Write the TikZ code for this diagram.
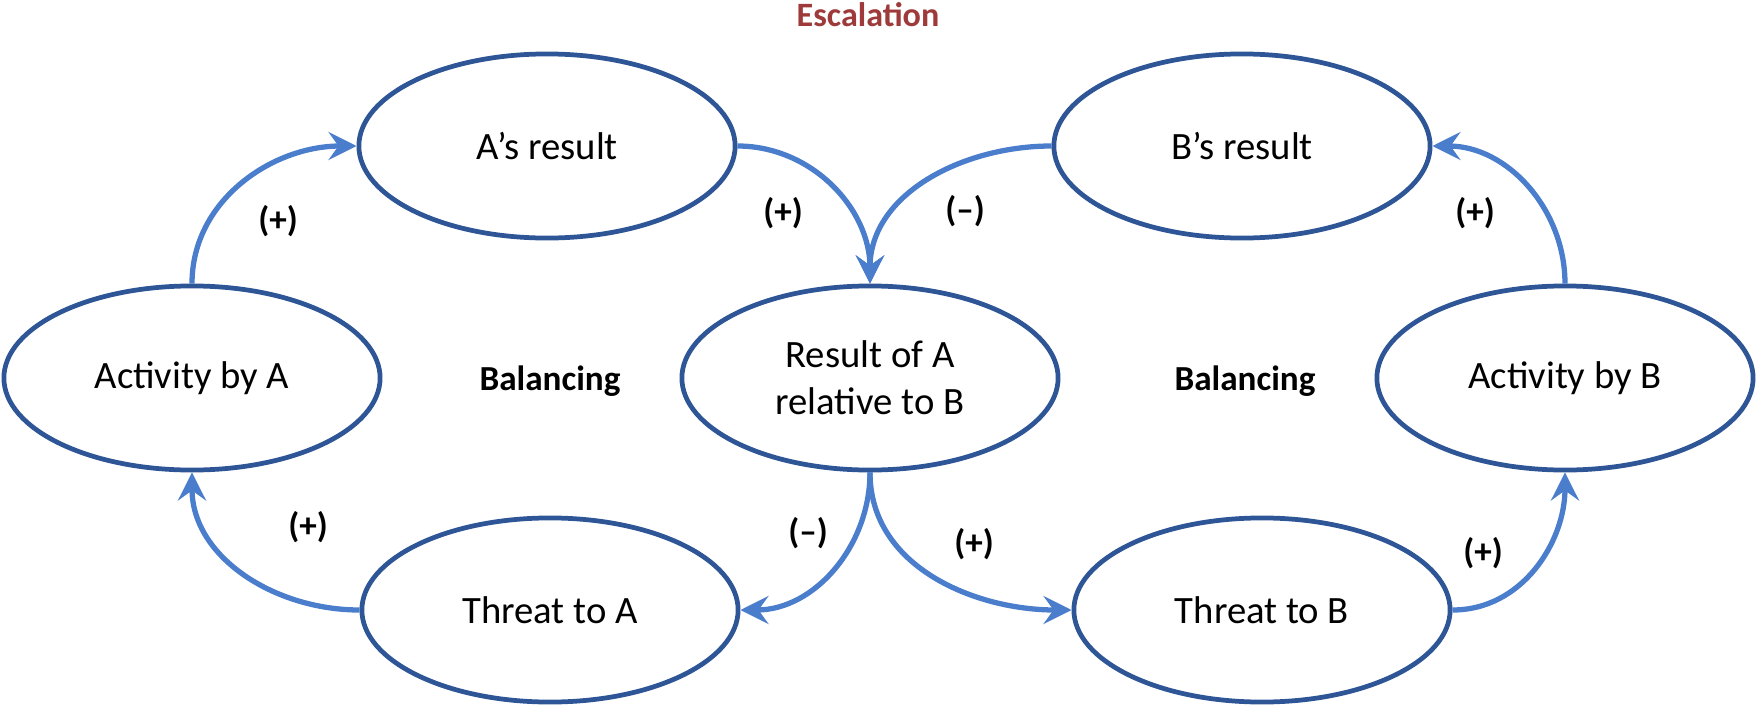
\documentclass[tikz,border=0pt]{standalone}
\usepackage{fontspec}
\setmainfont{Carlito}
\usepackage{tikz}
\usetikzlibrary{shapes.geometric,arrows.meta}
\definecolor{rim}{HTML}{2E5596}
\definecolor{flow}{HTML}{4A7DCB}
\definecolor{wine}{HTML}{9E3A3A}
\tikzset{
  loopnode/.style={ellipse,draw=rim,line width=1.35pt,minimum width=3.76cm,minimum height=1.84cm,
    inner sep=0pt,align=center,font=\fontsize{11}{13.4}\selectfont},
  link/.style={-{Stealth[length=0.28cm,width=0.28cm,inset=0.1cm]},flow,line width=1.5pt},
  sign/.style={font=\fontsize{10}{12}\selectfont\bfseries}
}

\begin{document}
\begin{tikzpicture}[x=0.01cm,y=0.01cm]
\useasboundingbox (0,0) rectangle (1759,708);
\node[font=\fontsize{9.7}{12}\selectfont\bfseries,wine] (esc) at (868,693) {Escalation};
% loop nodes
\node[loopnode] (resA) at (547,562) {A’s result};
\node[loopnode] (resB) at (1242,562) {B’s result};
\node[loopnode] (actA) at (192,330) {Activity by A};
\node[loopnode] (rel) at (870,330) {Result of A\\relative to B};
\node[loopnode] (actB) at (1565,330) {Activity by B};
\node[loopnode] (thrA) at (550,98) {Threat to A};
\node[loopnode] (thrB) at (1262,98) {Threat to B};
\node[sign] (balA) at (550,327) {Balancing};
\node[sign] (balB) at (1245,327) {Balancing};
% links
\draw[link] (actA.north) to[out=90,in=180] (resA.west);
\draw[link] (resA.east) to[out=0,in=90] (rel.north);
\draw[link] (resB.west) to[out=180,in=90] (rel.north);
\draw[link] (actB.north) to[out=90,in=0] (resB.east);
\draw[link] (rel.south) to[out=-90,in=0] (thrA.east);
\draw[link] (rel.south) to[out=-90,in=180] (thrB.west);
\draw[link] (thrA.west) to[out=180,in=-90] (actA.south);
\draw[link] (thrB.east) to[out=0,in=-90] (actB.south);
% polarity signs
\foreach \x/\y/\s [count=\i] in {278/487/{(+)},783/495/{(+)},965/497/{(--)},1475/495/{(+)},
  308/181/{(+)},808/175/{(--)},974/164/{(+)},1483/155/{(+)}}
  \node[sign] (sg\i) at (\x,\y) {\s};
\end{tikzpicture}
\end{document}
